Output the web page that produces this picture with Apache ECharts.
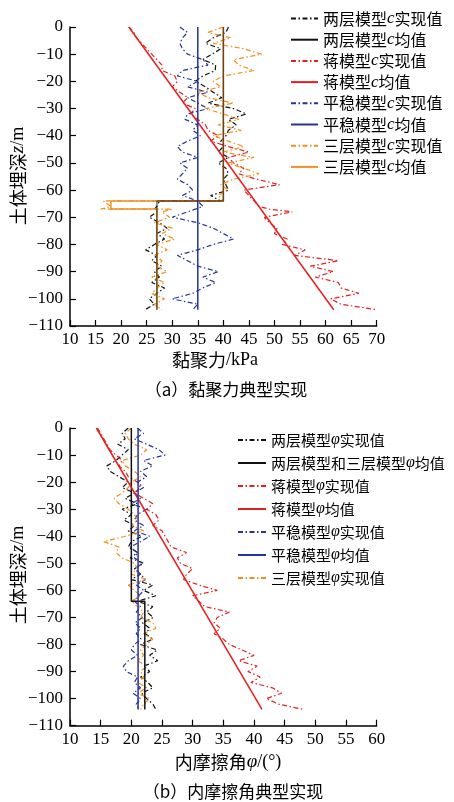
<!DOCTYPE html>
<html>
<head>
<meta charset="utf-8">
<script src="https://cdn.jsdelivr.net/npm/echarts@6/dist/echarts.min.js"></script>
<style>html,body{margin:0;padding:0;background:#fff}#c{width:454px;height:802px}</style>
</head>
<body>
<div id="c"></div>
<script>
// ---------- data: (a) cohesion c ----------
const depthTop = [0,-2,-4,-6,-8,-10,-12,-14,-16,-18,-20,-22,-24,-26,-28,-30,-32,-34,-36,-38,-40,-42,-44,-46,-48,-50,-52,-54,-56,-58,-60,-62,-64,-64,-66,-67,-67,-68,-70,-72,-74,-76,-78,-80,-82,-84,-86,-88,-90,-92,-94,-96,-98,-100,-102,-104];
const cTwoLayer = [41,40.5,38,36.5,39.5,37.8,36,38.5,38.4,36,34.5,36.5,38,39.7,37,42,44.5,41,42.5,41,40.5,39.5,40,39,41,39,40.5,41,40,40.5,41,37.5,39.5,27.5,27,26.5,26.5,27,25.5,27.5,29,27,28.5,26.5,24.8,27,26,28,26.5,27.5,26,28.5,27,25.5,26.5,24.7];
const cJiang = [21.5,22.5,23,24,25,26,27,28,28,30.5,31,30,31.5,33,32,34.5,33.5,35,36.5,37,39,37.5,41,45,41,42,44,43,46.5,51,44,45,46,46,47,49,49,53.5,48,49,50.5,50,52.5,51.5,56,54,62.5,57,61.5,58,62.5,63,66.5,61,63,70];
const cStationary = [31.5,33,32,31.5,32,33,36,37,32,31,35,33,37,33,35,37,33,32.5,35,34,35.5,33,31,32,35,31.5,33,32,31,33,34,32,35,35,36,34.5,34.5,33,30,35,38,40,42,38,35,31,33,35,39,36,38.5,36,34,30,35,34];
const cThreeLayer = [40,37,41.5,38,44,47.5,42,43,46,40,38,39.5,35,37,42,36.5,40,43,39,43.5,38,41,44,40,46,41,44,47,42,39.5,41,39,40,16.5,18,16,30,28,29.5,26.5,30,28,30.5,27,29,26.5,28,27,29,26,28.5,27,26,28.5,26.5,28];
// mean profiles [value, depth]
const cTwoLayerMean = [[40,0],[40,-64],[27,-64],[27,-104]];
const cJiangMean = [[21.5,0],[61.6,-104]];
const cStationaryMean = [[35,0],[35,-104]];
const cThreeLayerMean = [[40,0],[40,-64],[18,-64],[18,-67],[27,-67],[27,-104]];

// ---------- data: (b) friction angle phi ----------
const depthBot = [0,-2,-4,-6,-8,-10,-12,-14,-16,-18,-20,-22,-24,-26,-28,-30,-32,-34,-36,-38,-40,-42,-44,-46,-48,-50,-52,-54,-56,-58,-60,-62,-64,-66,-68,-70,-72,-74,-76,-78,-80,-82,-84,-86,-88,-90,-92,-94,-96,-98,-100,-102,-104];
const pTwoLayer = [19.5,18.5,19,17.8,19.5,18.5,17.5,16,16.5,18,19.5,18.5,20.5,19,21,18.5,20,18.8,20.5,19.5,21.7,20,19.5,21,19.8,22,20.5,21.5,20,23.5,22,24,21,23.5,22.5,23.6,21.8,23,22.3,23.5,21.5,24.2,23,24.3,22,23,21.5,22.7,23.5,21.7,22.5,23.5,24];
const pJiang = [14.5,15,15.5,16,16.5,17.5,18.5,18,19,19.5,21,21.5,20.5,22,23.5,22.5,24,24.5,23.5,25,25.5,26,26.5,29,27.5,28,30,29,28.5,31,34,30,31,32,36,34,33.5,34.5,33.5,35,36,38,40,37.5,40.5,39,41,39.5,43,44.5,42,44,48];
const pStationary = [21,22,20.5,22.5,24.5,25.5,22,23.5,21.5,22.5,21,22,20.5,21.5,20,22.5,21,20.5,22,20.5,23,21.5,19.8,21,20.5,21.8,20.5,21.5,22.3,20.8,22,21.2,20.5,21.5,20.8,21.8,20.6,21.5,20.8,21.6,20.5,20,21,19.5,18.7,19.2,21,20.5,21.5,20.3,21.5,20.8,21.2];
const pThreeLayer = [20,19,19.5,20.5,22.5,21.5,18.5,19,20.5,21.5,20,19.5,18.5,17.2,18,19.5,20.5,21,20,22,19,15.5,18,17.5,18.5,20.5,21,20,22.5,19.5,20.5,21.5,20,21,22,21.5,23.5,24,22,23.5,22.5,21.5,22,21,22.5,21.5,22,21,22.5,21,23,22,21.5];
const pTwoThreeMean = [[20,0],[20,-64],[22.2,-64],[22.2,-104]];
const pJiangMean = [[14.3,0],[41.3,-104]];
const pStationaryMean = [[21.1,0],[21.1,-104]];

const namesTop = ['两层模型c实现值','两层模型c均值','蒋模型c实现值','蒋模型c均值','平稳模型c实现值','平稳模型c均值','三层模型c实现值','三层模型c均值'];
const namesBot = ['两层模型φ实现值','两层模型和三层模型φ均值','蒋模型φ实现值','蒋模型φ均值','平稳模型φ实现值','平稳模型φ均值','三层模型φ实现值'];

// ---------- build ----------
const COL = {black:'#111111', red:'#e3201f', blue:'#25349b', orange:'#f28e1f'};
const DASHDOT = [5,2.5,1.5,2.5];
const zip = (xs, ys) => xs.map((v,i)=>[v, ys[i]]);

function realSeries(name, xs, ys, color, gi){
  return {name, type:'line', xAxisIndex:gi, yAxisIndex:gi, data:zip(xs,ys), symbol:'none', showSymbol:false,
    lineStyle:{color, width:1.2, type:DASHDOT}, itemStyle:{color}, silent:true, z:2};
}
function meanSeries(name, pts, color, gi, opacity){
  return {name, type:'line', xAxisIndex:gi, yAxisIndex:gi, data:pts, symbol:'none', showSymbol:false,
    lineStyle:{color, width:1.5, type:'solid', opacity: opacity==null?1:opacity}, itemStyle:{color}, silent:true, z:3};
}

const tickFont = {fontFamily:'Liberation Serif', fontSize:17, color:'#000'};
const minus = v => String(v).replace('-', '\u2212');
function xAx(gi, max){
  return {type:'value', gridIndex:gi, min:10, max:max, interval:5,
    axisLine:{show:true, onZero:false, lineStyle:{color:'#000', width:1.5}},
    axisTick:{show:true, inside:true, length:6, lineStyle:{color:'#000', width:1.2}},
    axisLabel:Object.assign({margin:5, formatter:minus}, tickFont), splitLine:{show:false}};
}
function yAx(gi){
  return {type:'value', gridIndex:gi, min:-110, max:0, interval:10,
    axisLine:{show:true, onZero:false, lineStyle:{color:'#000', width:1.5}},
    axisTick:{show:true, inside:true, length:6, lineStyle:{color:'#000', width:1.2}},
    axisLabel:Object.assign({margin:7, formatter:minus}, tickFont), splitLine:{show:false}};
}
const cjk = 'Noto Sans CJK SC';
const legendText = (sz) => ({fontFamily:cjk, fontSize:sz, color:'#000',
  rich:{i:{fontFamily:'Liberation Serif', fontStyle:'italic', fontSize:sz+1, color:'#000'}}});

const series = [
  realSeries(namesTop[0], cTwoLayer, depthTop, COL.black, 0),
  realSeries(namesTop[2], cJiang, depthTop, COL.red, 0),
  realSeries(namesTop[4], cStationary, depthTop, COL.blue, 0),
  realSeries(namesTop[6], cThreeLayer, depthTop, COL.orange, 0),
  meanSeries(namesTop[7], cThreeLayerMean, COL.orange, 0),
  meanSeries(namesTop[1], cTwoLayerMean, COL.black, 0, 0.6),
  meanSeries(namesTop[3], cJiangMean, COL.red, 0),
  meanSeries(namesTop[5], cStationaryMean, COL.blue, 0),

  realSeries(namesBot[0], pTwoLayer, depthBot, COL.black, 1),
  realSeries(namesBot[2], pJiang, depthBot, COL.red, 1),
  realSeries(namesBot[4], pStationary, depthBot, COL.blue, 1),
  realSeries(namesBot[6], pThreeLayer, depthBot, COL.orange, 1),
  meanSeries(namesBot[1], pTwoThreeMean, COL.black, 1),
  meanSeries(namesBot[3], pJiangMean, COL.red, 1),
  meanSeries(namesBot[5], pStationaryMean, COL.blue, 1)
];

function gtext(x, y, text, size, rot){
  return {type:'text', x, y, rotation: rot||0, silent:true,
    style:{text, x:0, y:0, align:'center', verticalAlign:'middle', fill:'#000',
      font: size+'px "'+cjk+'"',
      rich:{n:{fontFamily:cjk, fontSize:size, fill:'#000', color:'#000'},
            i:{fontFamily:'Liberation Serif', fontStyle:'italic', fontSize:size+1, fill:'#000', color:'#000'},
            s:{fontFamily:'Liberation Serif', fontSize:size, fill:'#000', color:'#000'}}}};
}

const legendCommon = {orient:'vertical', selectedMode:false, itemStyle:{opacity:0, borderWidth:0}};
const legendTopData = namesTop.map(n => n === namesTop[1] ? {name:n, lineStyle:{opacity:1, color:'#111111'}} : n);
const option = {
  animation:false,
  backgroundColor:'#fff',
  grid:[
    {left:70, top:27, width:306.7, height:299, containLabel:false},
    {left:70, top:428, width:306.7, height:297.7, containLabel:false}
  ],
  xAxis:[xAx(0,70), xAx(1,60)],
  yAxis:[yAx(0), yAx(1)],
  legend:[
    Object.assign({left:285, top:5, itemWidth:27, itemHeight:14, itemGap:4.2,
      data:legendTopData, textStyle:legendText(16), formatter:n=>n.replace('c','{i|c}')}, legendCommon),
    Object.assign({left:232, top:427, itemWidth:28, itemHeight:14, itemGap:7,
      data:namesBot, textStyle:legendText(15), formatter:n=>n.replace('φ','{i|φ}')}, legendCommon)
  ],
  graphic:[
    gtext(18, 176, '{n|土体埋深}{i|z}{s|/m}', 18, Math.PI/2),
    gtext(215, 360, '{n|黏聚力}{s|/kPa}', 18),
    gtext(226, 390, '{n|（a）黏聚力典型实现}', 17),
    gtext(18, 575, '{n|土体埋深}{i|z}{s|/m}', 18, Math.PI/2),
    gtext(228, 762, '{n|内摩擦角}{i|φ}{s|/(°)}', 18),
    gtext(233, 792, '{n|（b）内摩擦角典型实现}', 17)
  ],
  series
};
const chart = echarts.init(document.getElementById('c'), null, {renderer:'canvas'});
chart.setOption(option);
</script>
</body>
</html>
